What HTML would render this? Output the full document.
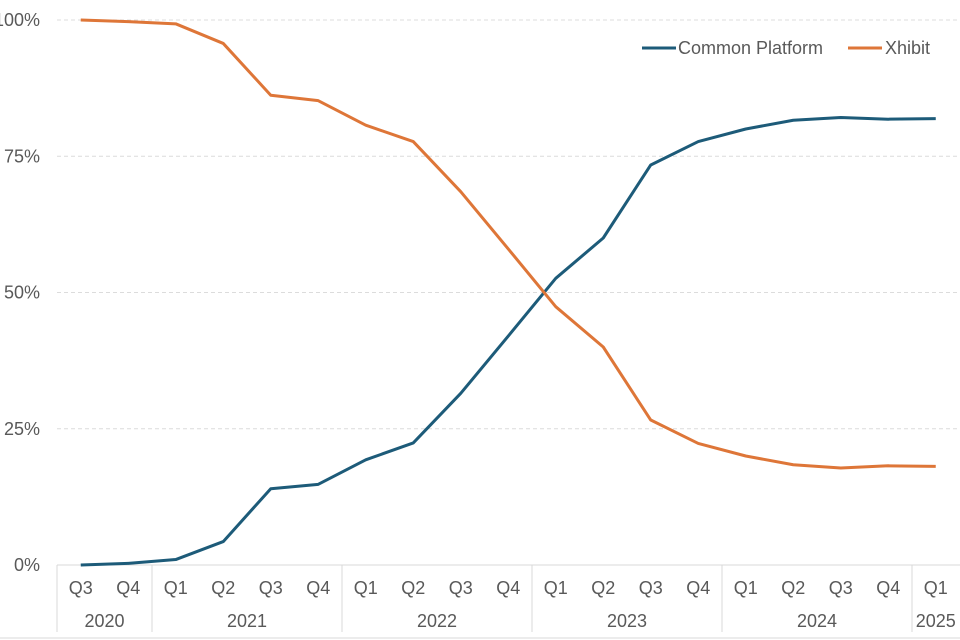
<!DOCTYPE html>
<html><head><meta charset="utf-8"><style>
body{margin:0;background:#fff;}
svg{display:block;font-family:"Liberation Sans",sans-serif;}
</style></head><body>
<svg id="c" width="960" height="640"></svg>
<script>
const quarters=["Q3","Q4","Q1","Q2","Q3","Q4","Q1","Q2","Q3","Q4","Q1","Q2","Q3","Q4","Q1","Q2","Q3","Q4","Q1"];
const years=["2020","2021","2022","2023","2024","2025"];
const yearCounts=[2,4,4,4,4,1];
const commonPlatform=[0,0.3,1,4.3,14,14.8,19.3,22.4,31.5,42,52.6,60,73.4,77.7,80,81.6,82.1,81.8,81.9];
const xhibit=[100,99.7,99.3,95.7,86.2,85.2,80.7,77.7,68.5,58,47.4,40,26.6,22.3,20,18.4,17.8,18.2,18.1];
const yTicks=[0,25,50,75,100];
const svg=document.getElementById('c');
const NS='http://www.w3.org/2000/svg';
const x0=57,bw=47.5,y0=565,yTop=20;
const x=i=>x0+bw*(i+0.5);
const y=v=>y0-(v/100)*(y0-yTop);
function mk(t,a,p){const e=document.createElementNS(NS,t);for(const k in a)e.setAttribute(k,a[k]);(p||svg).appendChild(e);return e;}
yTicks.forEach(v=>{
  const g=mk('line',{x1:x0,x2:960,y1:y(v),y2:y(v),stroke:v===0?'#d9d9d9':'#dcdcdc','stroke-dasharray':v===0?'':'4,3','stroke-width':1});
  
  
  const t=mk('text',{x:40,y:y(v)+6,'text-anchor':'end','font-size':18,fill:'#595959'});
  t.textContent=v+'%';
  
  
});
quarters.forEach((q,i)=>{
  const t=mk('text',{x:x(i),y:594,'text-anchor':'middle','font-size':18,fill:'#595959'});
  t.textContent=q;
  
  
});
let idx=0;
const sep=mk('line',{x1:x0,x2:x0,y1:y0,y2:632,stroke:'#d9d9d9'});


years.forEach((yr,k)=>{
  const start=idx,end=idx+yearCounts[k];idx=end;
  const cx=x0+bw*(start+end)/2;
  const t=mk('text',{x:cx,y:627,'text-anchor':'middle','font-size':18,fill:'#595959'});
  t.textContent=yr;
  
  
  if(k<years.length-1){
    const l=mk('line',{x1:x0+bw*end,x2:x0+bw*end,y1:y0,y2:632,stroke:'#d9d9d9'});
    
    
  }
});
const bl=mk('line',{x1:0,x2:960,y1:638,y2:638,stroke:'#d9d9d9'});


function series(vals,color,name){
  const p=mk('polyline',{points:vals.map((v,i)=>x(i)+','+y(v)).join(' '),fill:'none',stroke:color,'stroke-width':3,'stroke-linejoin':'round'});
  
  
}
series(commonPlatform,'#1d5b79','common-platform-line');
series(xhibit,'#de7638','xhibit-line');
const lg=mk('g',{});


[[642,678,'#1d5b79','Common Platform'],[848,885,'#de7638','Xhibit']].forEach(([lx,tx,c,n])=>{
  mk('line',{x1:lx,x2:lx+34,y1:48,y2:48,stroke:c,'stroke-width':3},lg);
  const t=mk('text',{x:tx,y:54,'font-size':18,fill:'#595959'},lg);
  t.textContent=n;
  
  
});
</script>
</body></html>
